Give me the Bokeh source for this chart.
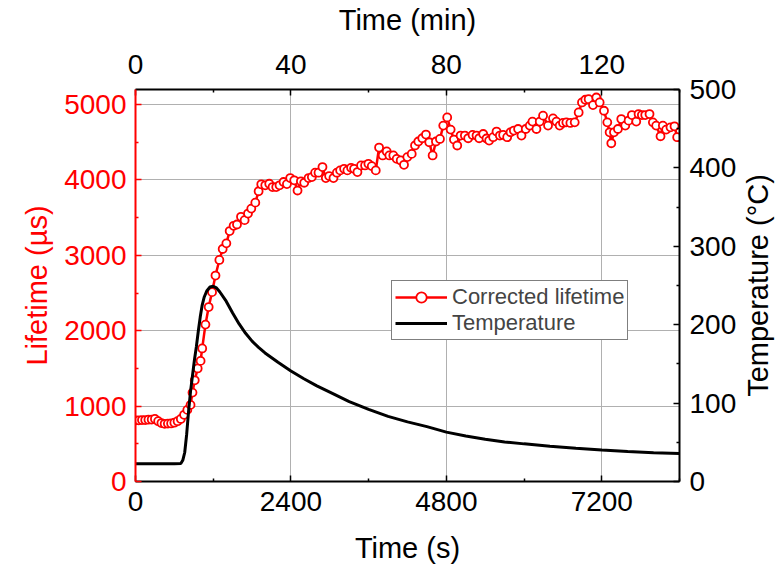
from bokeh.plotting import figure
from bokeh.layouts import row
from bokeh.models import Range1d, LinearAxis, FixedTicker
from bokeh.embed import file_html
from bokeh.resources import INLINE

# ---------------- data ----------------
life_t = [0, 50, 100, 150, 200, 250, 300, 350, 400, 450, 500, 550, 600, 650, 700, 750, 800, 850, 880, 915,
          960, 1005, 1030, 1080, 1130, 1182, 1235, 1295, 1346, 1403, 1454, 1515, 1567, 1629, 1685, 1737, 1788,
          1850, 1901, 1942, 2004, 2065, 2116, 2173, 2224, 2286, 2338, 2389, 2451, 2502, 2554, 2605, 2672, 2723,
          2774, 2826, 2887, 2939, 2990, 3057, 3109, 3160, 3221, 3272, 3329, 3375, 3427, 3483, 3545, 3596, 3648,
          3710, 3761, 3817, 3879, 3920, 3981, 4033, 4095, 4146, 4197, 4265, 4316, 4367, 4428, 4485, 4536, 4588,
          4639, 4701, 4752, 4813, 4866, 4917, 4968, 5020, 5086, 5137, 5205, 5266, 5307, 5369, 5420, 5461, 5523,
          5575, 5626, 5677, 5739, 5791, 5842, 5908, 5960, 6026, 6088, 6129, 6191, 6242, 6293, 6370, 6447, 6499,
          6550, 6601, 6653, 6715, 6782, 6843, 6894, 6946, 6997, 7064, 7116, 7167, 7234, 7285, 7321, 7347, 7388,
          7449, 7501, 7563, 7614, 7665, 7732, 7768, 7819, 7871, 7937, 7989, 8040, 8107, 8143, 8194, 8261, 8323,
          8364]
life_us = [810, 812, 815, 815, 820, 822, 830, 800, 775, 765, 768, 770, 780, 800, 830, 885, 950, 1016, 1179, 1342,
           1500, 1600, 1765, 2081, 2314, 2512, 2732, 2939, 3084, 3159, 3322, 3392, 3409, 3511, 3467, 3554, 3620,
           3699, 3850, 3942, 3929, 3950, 3906, 3906, 3929, 3973, 3945, 4025, 3995, 3860, 3982, 3963, 4025, 4038,
           4096, 4096, 4171, 4025, 4052, 4025, 4096, 4127, 4148, 4127, 4161, 4148, 4105, 4193, 4193, 4214, 4184,
           4127, 4430, 4325, 4378, 4325, 4325, 4280, 4259, 4201, 4303, 4346, 4457, 4510, 4553, 4602, 4500, 4325,
           4510, 4544, 4721, 4830, 4668, 4536, 4457, 4589, 4589, 4553, 4597, 4589, 4553, 4610, 4550, 4523, 4567,
           4642, 4589, 4597, 4567, 4633, 4655, 4676, 4589, 4676, 4721, 4774, 4676, 4774, 4853, 4721, 4817, 4774,
           4721, 4756, 4764, 4756, 4764, 4896, 5028, 5064, 5072, 4993, 5094, 5028, 4918, 4764, 4632, 4487, 4632,
           4676, 4808, 4721, 4787, 4861, 4774, 4874, 4861, 4861, 4874, 4764, 4721, 4580, 4721, 4668, 4698, 4712,
           4567]

temp_t = [0, 300, 600, 700, 730, 760, 790, 820, 850, 880, 910, 940, 970, 1000, 1030, 1060, 1100, 1150, 1200,
          1250, 1300, 1400, 1500, 1600, 1700, 1800, 1900, 2000, 2200, 2400, 2600, 2800, 3000, 3300, 3600, 3900,
          4200, 4500, 4800, 5100, 5400, 5700, 6000, 6400, 6800, 7200, 7600, 8000, 8400]
temp_c = [22.5, 22.5, 22.5, 23, 27, 37, 60, 90, 115, 135, 155, 172, 192, 210, 225, 235, 243, 248, 249,
          247, 242, 230, 215, 201, 189, 179, 171, 164, 152, 141, 131, 122, 114, 102, 92, 83,
          76, 70, 63, 58, 54, 50.5, 48, 45, 42.5, 40.3, 38.3, 36.8, 35.6]

x_major = [0, 2400, 4800, 7200]
x_minor = [1200, 3600, 6000, 8400]
min_major = [0, 40, 80, 120]
min_minor = [20, 60, 100, 140]
left_major = [0, 1000, 2000, 3000, 4000, 5000]
left_minor = [500, 1500, 2500, 3500, 4500]
right_major = [0, 100, 200, 300, 400, 500]
right_minor = [50, 150, 250, 350, 450]

FONT = "Liberation Sans"
RED = "#ff0000"

p = figure(width=739, height=569, x_range=Range1d(0, 8400), y_range=Range1d(0, 5200),
           output_backend="svg", toolbar_location=None,
           min_border_left=135, min_border_right=59, min_border_top=87, min_border_bottom=88)
p.outline_line_color = None
p.extra_y_ranges = {"temp": Range1d(0, 500)}
p.extra_x_ranges = {"min": Range1d(0, 140)}


def style(ax, color, major, minor, label, standoff, lstandoff):
    ax.ticker = FixedTicker(ticks=major, minor_ticks=minor)
    if label:
        ax.axis_label = label
    ax.axis_line_color = color
    ax.axis_line_width = 2
    ax.major_tick_line_color = color
    ax.minor_tick_line_color = color
    ax.major_tick_line_width = 1.5
    ax.minor_tick_line_width = 1.5
    ax.major_tick_in = 6
    ax.major_tick_out = 0
    ax.minor_tick_in = 3
    ax.minor_tick_out = 0
    ax.major_label_text_font = FONT
    ax.major_label_text_font_size = "28px"
    ax.major_label_text_color = color
    ax.major_label_standoff = standoff
    ax.axis_label_text_font = FONT
    ax.axis_label_text_font_size = "29px"
    ax.axis_label_text_font_style = "normal"
    ax.axis_label_text_color = color
    ax.axis_label_standoff = lstandoff


style(p.xaxis[0], "black", x_major, x_minor, "Time (s)", 10, 18)
style(p.yaxis[0], RED, left_major, left_minor, "Lifetime (µs)", 9, 8)

top = LinearAxis(x_range_name="min")
style(top, "black", min_major, min_minor, "Time (min)", 16, 16)
p.add_layout(top, "above")

right = LinearAxis(y_range_name="temp")
style(right, "black", right_major, right_minor, None, 10, 0)
p.add_layout(right, "right")

p.xgrid.ticker = FixedTicker(ticks=x_major)
p.ygrid.ticker = FixedTicker(ticks=left_major)
p.xgrid.grid_line_color = "#b0b0b0"
p.ygrid.grid_line_color = "#b0b0b0"
p.xgrid.grid_line_width = 1
p.ygrid.grid_line_width = 1

p.line(life_t, life_us, line_color=RED, line_width=2.5, legend_label="Corrected lifetime")
p.scatter(life_t, life_us, marker="circle", size=8, line_color=RED, line_width=1.8,
          fill_color="white", legend_label="Corrected lifetime")
p.line(temp_t, temp_c, line_color="black", line_width=3, y_range_name="temp", legend_label="Temperature")

lg = p.legend[0]
lg.location = (256, 141)
lg.border_line_color = "black"
lg.border_line_width = 1
lg.background_fill_color = "white"
lg.background_fill_alpha = 1
lg.label_text_font = FONT
lg.label_text_font_size = "22px"
lg.padding = 3
lg.spacing = 0
lg.margin = 0
lg.glyph_width = 52
lg.glyph_height = 26
lg.label_height = 26
lg.label_standoff = 5

# narrow companion figure carrying the right-hand title (reads bottom-to-top)
side = figure(width=38, height=569, x_range=Range1d(0, 1), y_range=Range1d(0, 500),
              output_backend="svg", toolbar_location=None, x_axis_location=None,
              min_border_left=37, min_border_right=0, min_border_top=87, min_border_bottom=88)
side.outline_line_color = None
side.grid.visible = False
sax = side.yaxis[0]
sax.ticker = FixedTicker(ticks=[])
sax.axis_line_color = None
sax.major_tick_line_color = None
sax.minor_tick_line_color = None
sax.major_tick_out = 0
sax.minor_tick_out = 0
sax.major_label_text_font_size = "0px"
sax.major_label_standoff = 0
sax.axis_label = "Temperature (°C)"
sax.axis_label_text_font = FONT
sax.axis_label_text_font_size = "29px"
sax.axis_label_text_font_style = "normal"
sax.axis_label_text_color = "black"
sax.axis_label_standoff = 4

layout = row(p, side)
open("out.html", "w").write(file_html(layout, INLINE))
